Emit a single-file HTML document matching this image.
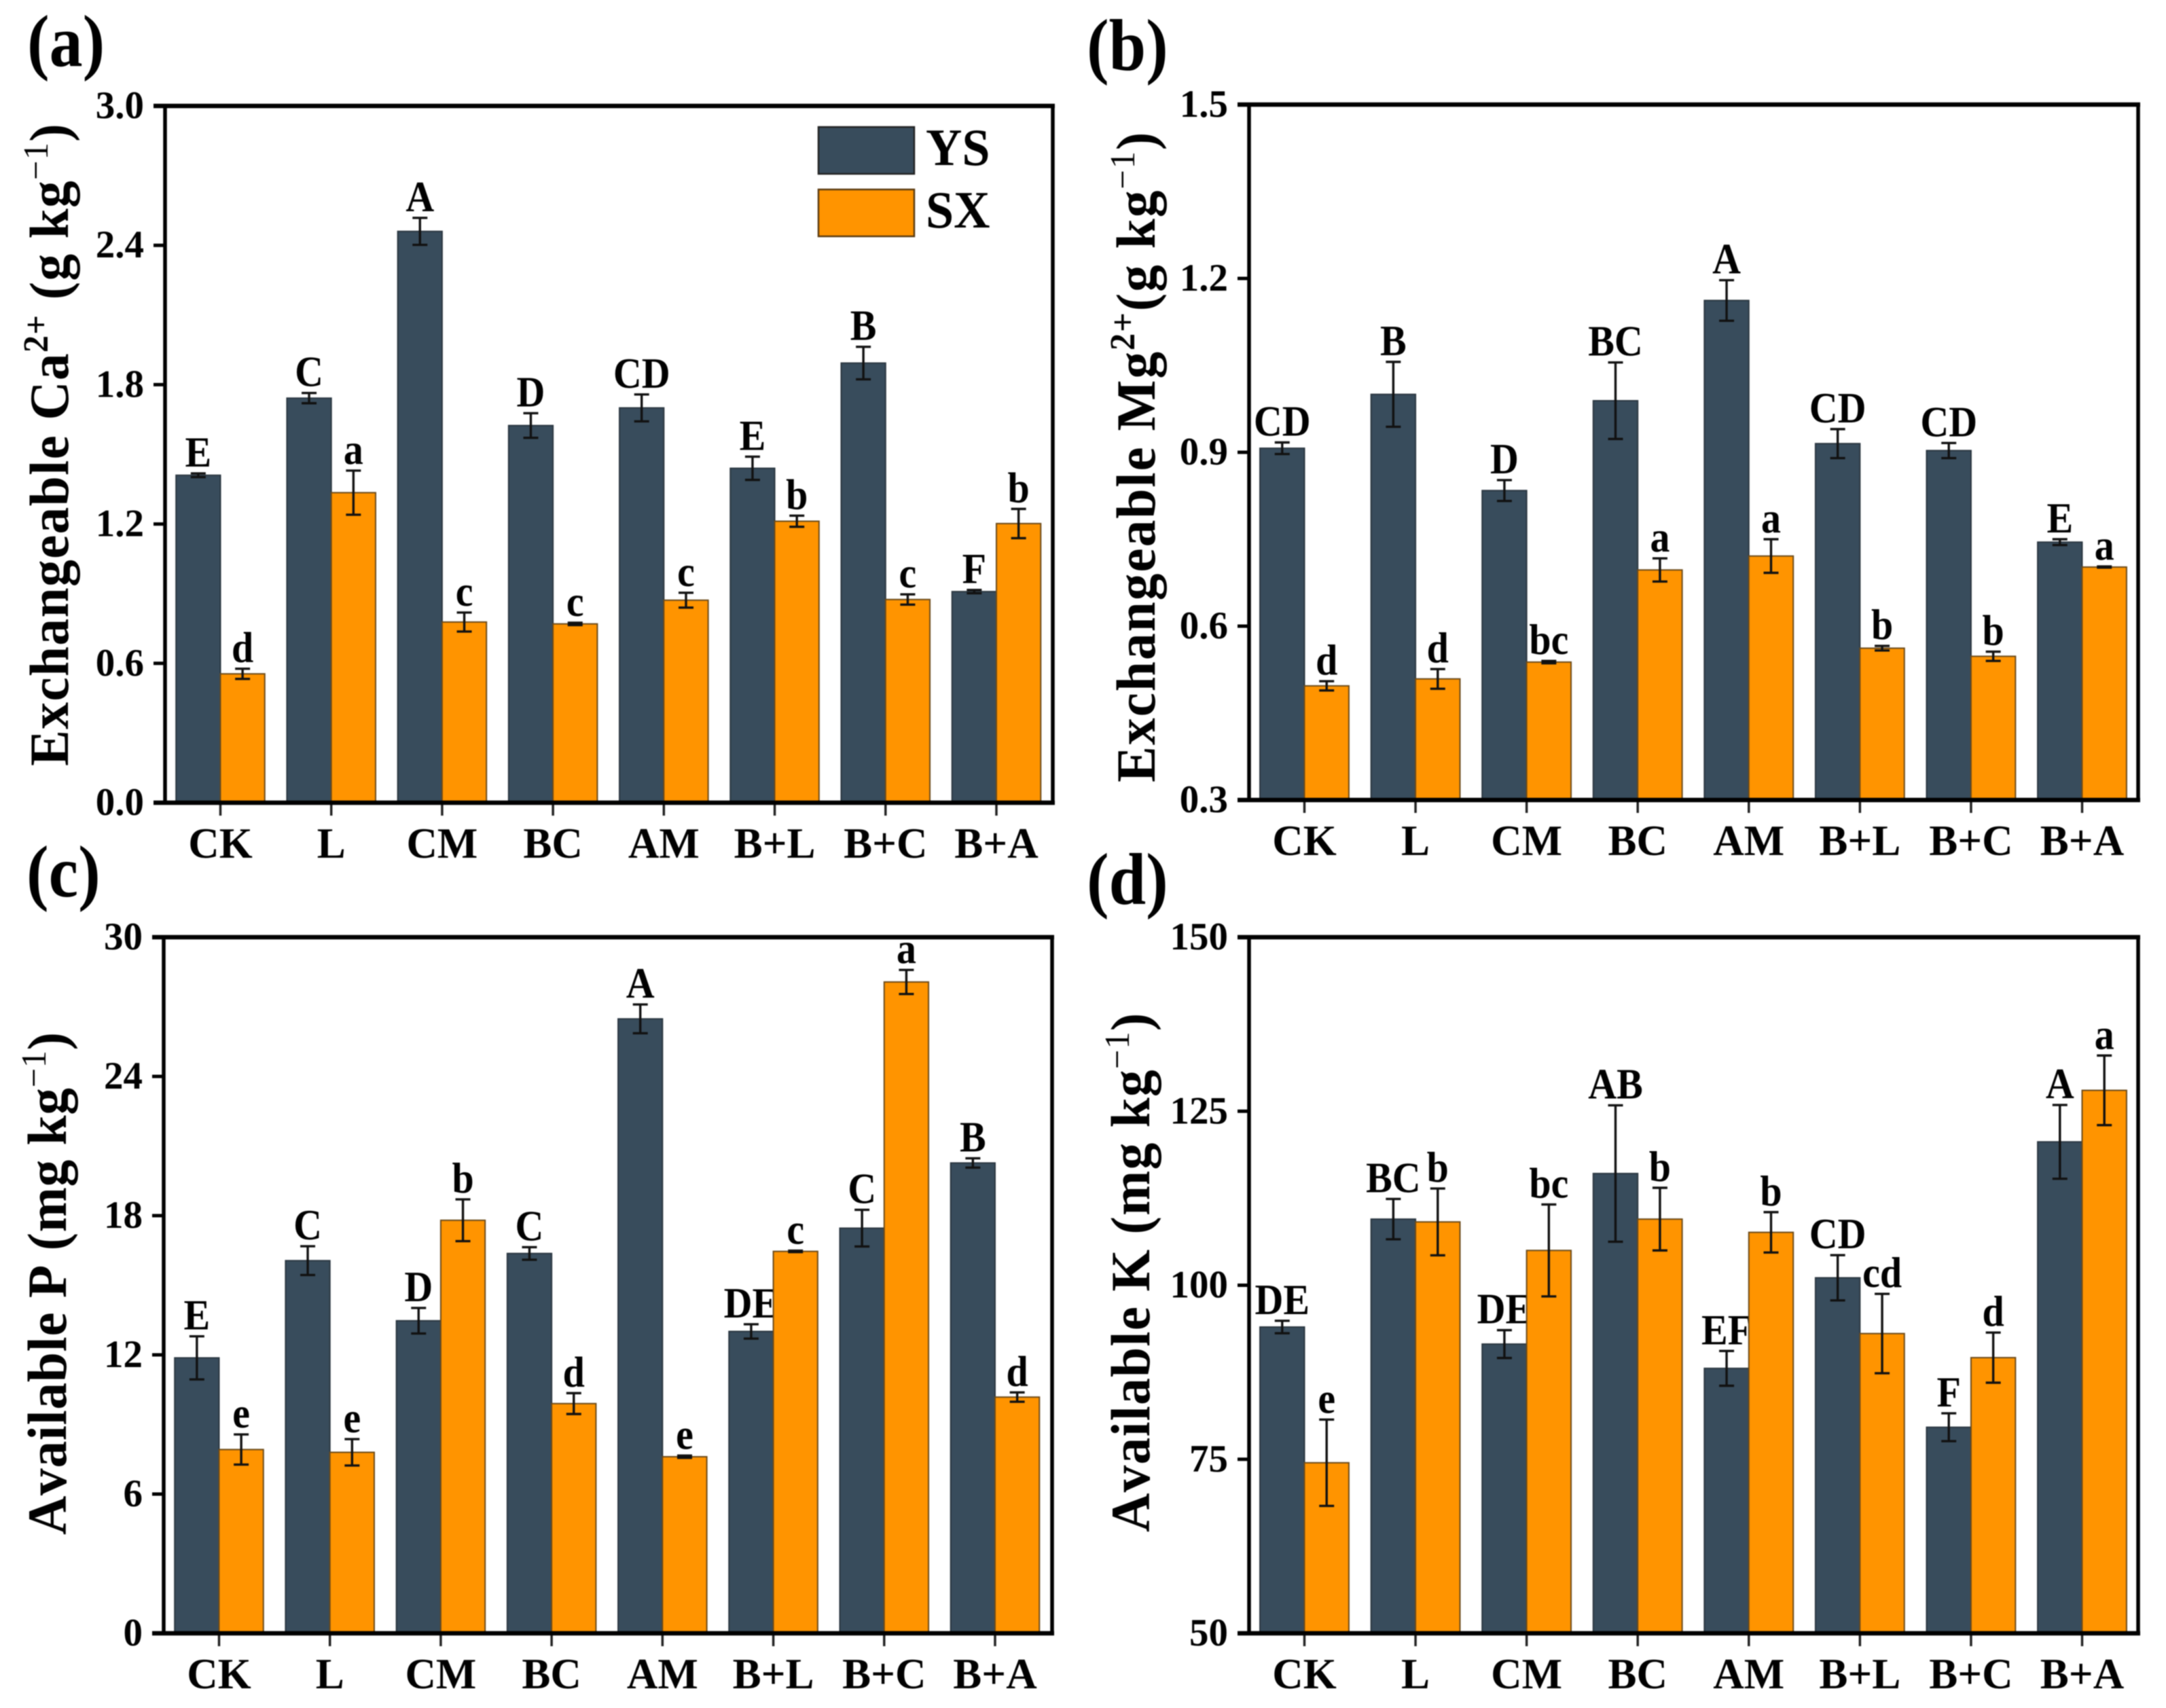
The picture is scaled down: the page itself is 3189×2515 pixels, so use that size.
<!DOCTYPE html>
<html lang="en">
<head>
<meta charset="utf-8">
<title>Exchangeable cations and available nutrients</title>
<style>
html,body{margin:0;padding:0;background:#fff;}
svg{display:block;filter:blur(0.7px);}
text{font-family:"Liberation Serif",serif;font-weight:700;fill:#000;font-kerning:none;}
</style>
</head>
<body>
<svg id="figure" xmlns="http://www.w3.org/2000/svg" width="3189" height="2515" viewBox="0 0 3189 2515">
<rect width="3189" height="2515" fill="#fff"/>
<text font-size="98" transform="translate(40 97) scale(1 1.1)">(a)</text>
<text font-size="98" transform="translate(1600 103) scale(1 1.1)">(b)</text>
<text font-size="98" transform="translate(39 1320) scale(1 1.1)">(c)</text>
<text font-size="98" transform="translate(1600 1331) scale(1 1.1)">(d)</text>
<text font-size="82" transform="translate(100 1128) rotate(-90) scale(0.97 1)" textLength="975">Exchangeable Ca<tspan font-size="52" dy="-30">2+</tspan><tspan dy="30"> (g kg</tspan><tspan font-size="52" dy="-30" font-weight="400">−1</tspan><tspan dy="30">)</tspan></text>
<text font-size="82" transform="translate(1700 1152) rotate(-90) scale(0.97 1)" textLength="987">Exchangeable Mg<tspan font-size="52" dy="-30">2+</tspan><tspan dy="30">(g kg</tspan><tspan font-size="52" dy="-30" font-weight="400">−1</tspan><tspan dy="30">)</tspan></text>
<text font-size="82" transform="translate(97 2260) rotate(-90) scale(0.97 1)" textLength="763">Available P (mg kg<tspan font-size="52" dy="-30" font-weight="400">−1</tspan><tspan dy="30">)</tspan></text>
<text font-size="82" transform="translate(1692 2256) rotate(-90) scale(0.97 1)" textLength="788">Available K (mg kg<tspan font-size="52" dy="-30" font-weight="400">−1</tspan><tspan dy="30">)</tspan></text>
<g id="panels"></g>
<g>
<rect x="1205" y="187" width="141" height="69" fill="#384c5c" stroke="#222" stroke-width="2.5"/>
<text font-size="74" transform="translate(1363 243) scale(1 1.05)">YS</text>
<rect x="1205" y="279" width="141" height="69" fill="#ff9400" stroke="#5a3a10" stroke-width="2.5"/>
<text font-size="74" transform="translate(1363 335) scale(1 1.05)">SX</text>
</g>
</svg>
<script>
const categories = ["CK", "L", "CM", "BC", "AM", "B+L", "B+C", "B+A"];

const ticksA = ["0.0", "0.6", "1.2", "1.8", "2.4", "3.0"];
const ysA = [1.41, 1.742, 2.46, 1.624, 1.70, 1.44, 1.893, 0.909];
const ysErrA = [0.008, 0.022, 0.058, 0.053, 0.058, 0.05, 0.07, 0.007];
const sxA = [0.555, 1.335, 0.778, 0.77, 0.872, 1.212, 0.875, 1.202];
const sxErrA = [0.022, 0.095, 0.041, 0.005, 0.032, 0.024, 0.022, 0.063];
const ysLettersA = ["E", "C", "A", "D", "CD", "E", "B", "F"];
const sxLettersA = ["d", "a", "c", "c", "c", "b", "c", "b"];

const ticksB = ["0.3", "0.6", "0.9", "1.2", "1.5"];
const ysB = [0.907, 1.0, 0.834, 0.989, 1.162, 0.915, 0.903, 0.745];
const ysErrB = [0.01, 0.056, 0.018, 0.066, 0.035, 0.025, 0.013, 0.005];
const sxB = [0.497, 0.509, 0.538, 0.697, 0.721, 0.562, 0.548, 0.702];
const sxErrB = [0.008, 0.017, 0.002, 0.02, 0.029, 0.004, 0.008, 0.001];
const ysLettersB = ["CD", "B", "D", "BC", "A", "CD", "CD", "E"];
const sxLettersB = ["d", "d", "bc", "a", "a", "b", "b", "a"];

const ticksC = ["0", "6", "12", "18", "24", "30"];
const ysC = [11.87, 16.06, 13.47, 16.37, 26.48, 13.01, 17.46, 20.27];
const ysErrC = [0.93, 0.62, 0.55, 0.27, 0.62, 0.31, 0.79, 0.2];
const sxC = [7.92, 7.8, 17.8, 9.9, 7.61, 16.46, 28.07, 10.18];
const sxErrC = [0.65, 0.57, 0.9, 0.45, 0.05, 0.03, 0.52, 0.2];
const ysLettersC = ["E", "C", "D", "C", "A", "DE", "C", "B"];
const sxLettersC = ["e", "e", "b", "d", "e", "c", "a", "d"];

const ticksD = ["50", "75", "100", "125", "150"];
const ysD = [94.0, 109.5, 91.55, 116.05, 88.06, 101.07, 79.6, 120.6];
const ysErrD = [0.9, 2.9, 2.0, 9.8, 2.5, 3.25, 2.0, 5.3];
const sxD = [74.5, 109.1, 105.0, 109.5, 107.6, 93.06, 89.6, 128.0];
const sxErrD = [6.2, 4.8, 6.6, 4.5, 2.9, 5.7, 3.6, 5.0];
const ysLettersD = ["DE", "BC", "DE", "AB", "EF", "CD", "F", "A"];
const sxLettersD = ["e", "b", "bc", "b", "b", "cd", "d", "a"];

const NS = "http://www.w3.org/2000/svg";
const YS_COLOR = "#384c5c";
const SX_COLOR = "#ff9400";

function node(parent, tag, attrs, text) {
  const el = document.createElementNS(NS, tag);
  for (const k in attrs) el.setAttribute(k, attrs[k]);
  if (text !== undefined) el.textContent = text;
  parent.appendChild(el);
  return el;
}

function drawPanel(id, frame, ticks, ys, ysErr, sx, sxErr, ysLetters, sxLetters) {
  const root = document.getElementById("panels");
  const g = node(root, "g", {});
  
  

  const tickValues = ticks.map(Number);
  const yMin = Math.min.apply(null, tickValues);
  const yMax = Math.max.apply(null, tickValues);
  const yScale = function (v) {
    return frame.bottom - (v - yMin) / (yMax - yMin) * (frame.bottom - frame.top);
  };
  const step = (frame.lastX - frame.firstX) / (categories.length - 1);
  const xScale = function (i) { return frame.firstX + i * step; };
  const barW = step * 0.4;

  function drawSeries(name, values, errs, letters, color, edge, side) {
    values.forEach(function (v, i) {
      const x = side < 0 ? xScale(i) - barW : xScale(i);
      const top = yScale(v);
      const bar = node(g, "rect", { x: x, y: top, width: barW, height: frame.bottom - top, fill: color, stroke: edge, "stroke-width": 2 });
      
      

      const cx = x + barW / 2;
      const hi = yScale(v + errs[i]);
      const lo = yScale(v - errs[i]);
      const err = node(g, "path", {
        d: "M" + (cx - 11) + " " + hi + "H" + (cx + 11) + "M" + cx + " " + hi + "V" + lo + "M" + (cx - 11) + " " + lo + "H" + (cx + 11),
        fill: "none", stroke: "#111", "stroke-width": 3.4
      });
      
      

      const label = node(g, "text", { transform: "translate(" + cx + " " + (hi - 10) + ") scale(1 1.09)", "font-size": 58, "text-anchor": "middle" }, letters[i]);
      
      
    });
  }
  drawSeries("ys", ys, ysErr, ysLetters, YS_COLOR, "#2a3640", -1);
  drawSeries("sx", sx, sxErr, sxLetters, SX_COLOR, "#6b4a1a", 1);

  ticks.forEach(function (t, i) {
    const y = yScale(tickValues[i]);
    const mark = node(g, "line", { x1: frame.left - 17, x2: frame.left, y1: y, y2: y, stroke: "#000", "stroke-width": 5 });
    
    
    const label = node(g, "text", { x: frame.left - 31, y: y + 18, "font-size": 57, "text-anchor": "end" }, t);
    
    
  });

  categories.forEach(function (c, i) {
    const x = xScale(i);
    const mark = node(g, "line", { x1: x, x2: x, y1: frame.bottom, y2: frame.bottom + 19, stroke: "#222", "stroke-width": 3.5 });
    
    
    const label = node(g, "text", { x: x, y: frame.bottom + 81, "font-size": 63, "text-anchor": "middle" }, c);
    
    
  });

  const box = node(g, "path", {
    d: "M" + frame.left + " " + frame.bottom + "V" + frame.top + "M" + frame.right + " " + frame.top + "V" + frame.bottom,
    fill: "none", stroke: "#000", "stroke-width": 5.5
  });
  
  
  const box2 = node(g, "path", {
    d: "M" + (frame.left - 17) + " " + frame.top + "H" + (frame.right + 3) + "M" + (frame.left - 17) + " " + frame.bottom + "H" + (frame.right + 3),
    fill: "none", stroke: "#000", "stroke-width": 6.5
  });
  
  
}

drawPanel("a", { left: 243, right: 1550, top: 156, bottom: 1182, firstX: 324.5, lastX: 1467 },
  ticksA, ysA, ysErrA, sxA, sxErrA, ysLettersA, sxLettersA);
drawPanel("b", { left: 1839, right: 3148, top: 154, bottom: 1178, firstX: 1920.5, lastX: 3065.5 },
  ticksB, ysB, ysErrB, sxB, sxErrB, ysLettersB, sxLettersB);
drawPanel("c", { left: 241, right: 1549, top: 1380, bottom: 2405, firstX: 322.5, lastX: 1465 },
  ticksC, ysC, ysErrC, sxC, sxErrC, ysLettersC, sxLettersC);
drawPanel("d", { left: 1839, right: 3148, top: 1380, bottom: 2405, firstX: 1920.5, lastX: 3065.5 },
  ticksD, ysD, ysErrD, sxD, sxErrD, ysLettersD, sxLettersD);
</script>
</body>
</html>
